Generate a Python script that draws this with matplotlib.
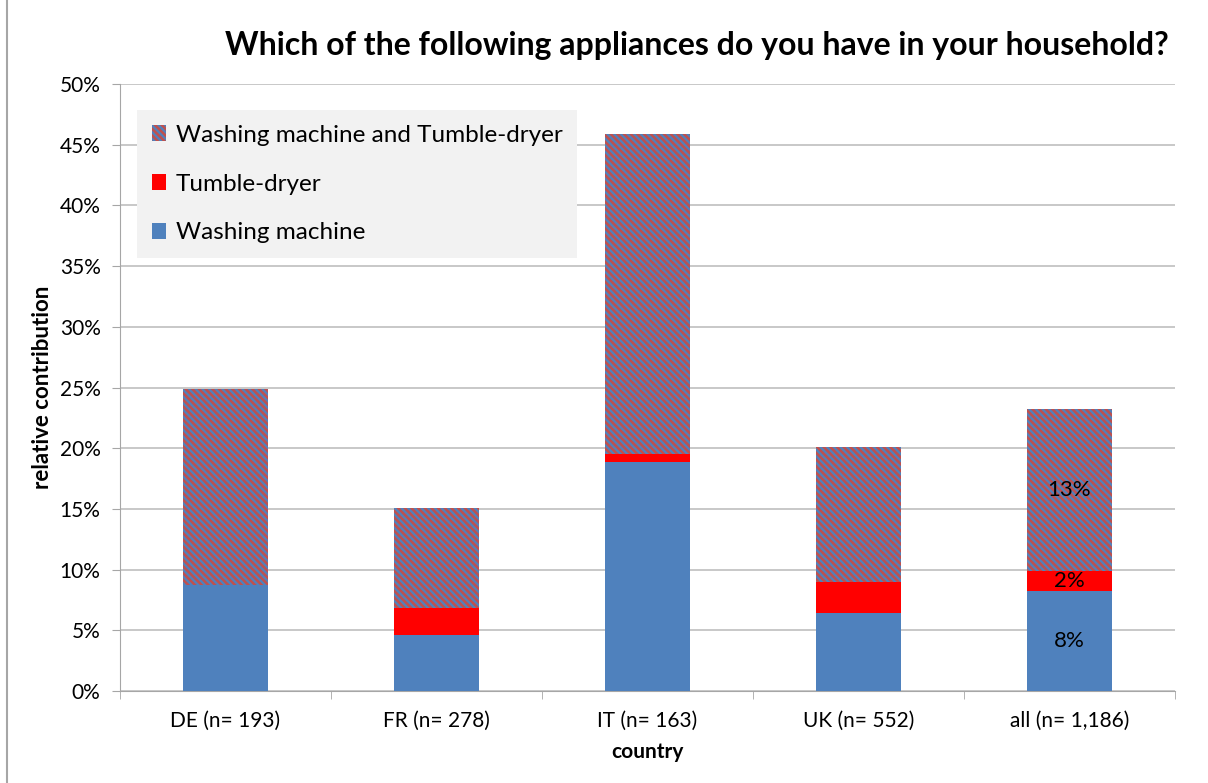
import matplotlib.pyplot as plt
import numpy as np
from matplotlib.lines import Line2D

plt.rcParams['font.family'] = ['Lato', 'DejaVu Sans']
plt.rcParams['hatch.linewidth'] = 1.6

# data (percent)
countries = ['DE (n= 193)', 'FR (n= 278)', 'IT (n= 163)', 'UK (n= 552)', 'all (n= 1,186)']
washing = [8.7, 4.6, 18.9, 6.4, 8.2]
dryer = [0.0, 2.2, 0.6, 2.6, 1.7]
both = [16.2, 8.3, 26.4, 11.1, 13.3]
all_labels = ['8%', '2%', '13%']

blue = '#4F81BD'
red = '#FF0000'
hatch_red = '#C0504D'

fig = plt.figure(figsize=(12.08, 7.83), dpi=100)
ax = fig.add_axes([120/1208, 92/783, 1055/1208, 607/783])

x = np.arange(len(countries))
w = 0.4
b1 = ax.bar(x, washing, w, color=blue, zorder=3)
b2 = ax.bar(x, dryer, w, bottom=washing, color=red, zorder=3)
bot = np.array(washing) + np.array(dryer)
b3 = ax.bar(x, both, w, bottom=bot, facecolor=hatch_red, edgecolor=blue,
            hatch='\\\\\\\\\\', linewidth=0, zorder=3)

# labels on the "all" bar
i = len(countries) - 1
ax.text(i, washing[i]/2, all_labels[0], ha='center', va='center', fontsize=16)
ax.text(i, washing[i] + dryer[i]/2, all_labels[1], ha='center', va='center', fontsize=16)
ax.text(i, bot[i] + both[i]/2, all_labels[2], ha='center', va='center', fontsize=16)

ax.set_xlim(-0.5, len(countries) - 0.5)
ax.set_ylim(0, 50)
ax.set_yticks(np.arange(0, 51, 5))
ax.set_yticklabels([f'{v}%' for v in range(0, 51, 5)], fontsize=15)
ax.yaxis.grid(True, color='#BFBFBF', linewidth=1.2, zorder=0)
ax.set_xticks(x)
ax.set_xticklabels(countries, fontsize=15)
ax.tick_params(axis='x', length=0, pad=14)
ax.set_xticks(np.arange(-0.5, len(countries), 1), minor=True)
ax.tick_params(axis='x', which='minor', length=6, color='#A6A6A6')
ax.tick_params(axis='y', length=6, color='#A6A6A6', pad=8)
for s in ['top', 'right']:
    ax.spines[s].set_visible(False)
for s in ['left', 'bottom']:
    ax.spines[s].set_color('#A6A6A6')

ax.set_xlabel('country', fontsize=15, fontweight='bold', labelpad=8)
ax.set_ylabel('relative contribution', fontsize=16, fontweight='bold', labelpad=5)
fig.text(697/1208, 1 - 45/783, 'Which of the following appliances do you have in your household?',
         ha='center', va='center', fontsize=23, fontweight='bold')

leg = ax.legend([b3, b2, b1], ['Washing machine and Tumble-dryer', 'Tumble-dryer', 'Washing machine'],
                loc='upper left', bbox_to_anchor=(17/1055, 1 - 26/607), fontsize=17.5,
                frameon=True, fancybox=False, handlelength=0.6, handleheight=0.6,
                handletextpad=0.4, labelspacing=1.15, borderpad=0.6, borderaxespad=0)
leg.get_frame().set_facecolor('#F2F2F2')
leg.get_frame().set_edgecolor('none')
leg.get_frame().set_alpha(1)

fig.add_artist(Line2D([7/1208, 7/1208], [0, 1], color='#A6A6A6', linewidth=1.5))

fig.savefig('out.png', dpi=100)
